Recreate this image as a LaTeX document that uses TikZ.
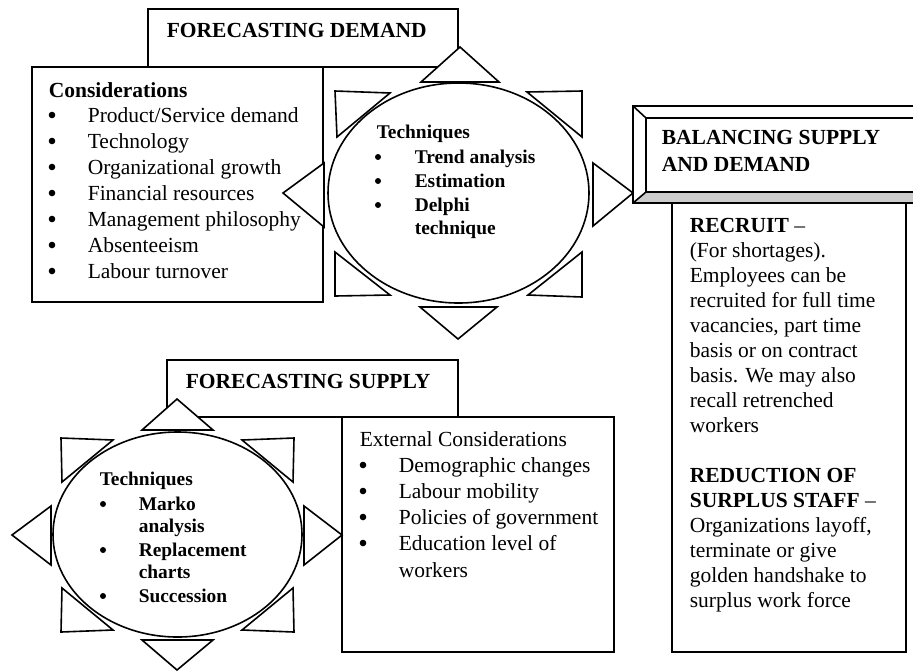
\documentclass[tikz,border=0pt]{standalone}
\usepackage{fontspec}
\setmainfont{Liberation Serif}
\newcommand{\bodyfont}{\fontsize{10.75}{12.75}\selectfont}
\newcommand{\techfont}{\fontsize{9.7}{11.5}\selectfont}
\tikzset{
    box/.style={draw, fill=white},
    tri/.style={draw, fill=white, line join=miter},
    txt/.style={anchor=base west, inner sep=0pt, font=\bodyfont},
    head/.style={txt, font=\bodyfont\bfseries},
    dot/.style={circle, fill, inner sep=0pt, minimum size=3.3pt},
    tech/.style={anchor=base west, inner sep=0pt, font=\techfont\bfseries},
}

\begin{document}
\begin{tikzpicture}[x=0.5pt, y=-0.5pt, line width=0.8pt]
        \useasboundingbox (0,0) rectangle (913,671);
        \clip (0,0) rectangle (913,671);

        % demand
        \draw[box] (148,9) rectangle (458,67);
        \node[head] (fdem) at (166,37) {FORECASTING DEMAND};
        \draw[box] (32,67) rectangle (323,302);
        \node[head] (cons) at (48,97) {Considerations};
        \foreach \t [count=\i] in {Product/Service demand, Technology, Organizational growth, Financial resources, Management philosophy, Absenteeism, Labour turnover}{
            \node[dot] (cdot\i) at (52,89+26*\i) {};
            \node[txt] (citem\i) at (87,96+26*\i) {\t};
        }

        % star round the demand techniques
        \foreach \a/\b/\c in {{(460,47)}/{(421,82)}/{(499,82)}, {(420,307)}/{(497,307)}/{(458,339)},
                {(324,163)}/{(324,227)}/{(283,193)}, {(593,163)}/{(593,226)}/{(633,193)},
                {(335,91)}/{(390,93)}/{(337,137)}, {(335,252)}/{(335,296)}/{(390,295)},
                {(527,92)}/{(582,91)}/{(582,137)}, {(528,295)}/{(582,297)}/{(582,252)}}
            \draw[tri] \a -- \b -- \c -- cycle;
        \draw[box] (458.5,193) ellipse [x radius=130.5, y radius=110];
        \node[tech] (dtech) at (376,138) {Techniques};
        \node[dot, minimum size=3pt] (ddot1) at (378,157) {};
        \node[dot, minimum size=3pt] (ddot2) at (378,181) {};
        \node[dot, minimum size=3pt] (ddot3) at (378,205) {};
        \node[tech] (dtrend) at (414,163) {Trend analysis};
        \node[tech] (destim) at (414,187) {Estimation};
        \node[tech] (ddelphi) at (414,211) {Delphi};
        \node[tech] (ddelphi2) at (414,234) {technique};

        % balancing
        \fill[white] (633,106) rectangle (925,203);
        \fill[gray!40] (633,203) -- (646,192) -- (925,192) -- (925,203) -- cycle;
        \draw (633,106) rectangle (925,203);
        \draw (646,118) rectangle (925,192);
        \draw (633,106) -- (646,118);
        \draw (633,203) -- (646,192);
        \node[head] (bal1) at (661,144) {BALANCING SUPPLY};
        \node[head] (bal2) at (661,171) {AND DEMAND};
        \draw[box] (672,203) rectangle (906,652);
        \foreach \t [count=\i] in {\textbf{RECRUIT} --, (For shortages)., Employees can be, recruited for full time, {vacancies, part time}, basis or on contract, basis. We may also, recall retrenched, workers, {}, \textbf{REDUCTION OF}, \textbf{SURPLUS STAFF} --, {Organizations layoff,}, terminate or give, golden handshake to, surplus work force}
            \node[txt] (bline\i) at (689,207+25*\i) {\t};

        % supply
        \draw[box] (167,360) rectangle (458,417);
        \node[head] (fsup) at (185,388) {FORECASTING SUPPLY};
        \draw[box] (342,417) rectangle (614,652);
        \node[txt] (ext) at (359,446) {External Considerations};
        \foreach \t [count=\i] in {Demographic changes, Labour mobility, Policies of government, Education level of}{
            \node[dot] (edot\i) at (363,439+26*\i) {};
            \node[txt] (eitem\i) at (398,446+26*\i) {\t};
        }
        \node[txt] (eitem5) at (398,577) {workers};

        % star round the supply techniques
        \foreach \a/\b/\c in {{(177,399)}/{(142,430)}/{(213,430)}, {(142,640)}/{(213,640)}/{(177,670)},
                {(51,506)}/{(51,565)}/{(12,535)}, {(304,506)}/{(304,565)}/{(342,535)},
                {(61,438)}/{(113,440)}/{(62,482)}, {(242,440)}/{(294,438)}/{(293,482)},
                {(62,588)}/{(61,632)}/{(113,630)}, {(293,588)}/{(294,632)}/{(242,630)}}
            \draw[tri] \a -- \b -- \c -- cycle;
        \draw[box] (177.5,534.5) ellipse [x radius=124.5, y radius=102.5];
        \node[tech] (stech) at (99,485) {Techniques};
        \node[dot, minimum size=3pt] (sdot1) at (103,504) {};
        \node[dot, minimum size=3pt] (sdot2) at (103,550) {};
        \node[dot, minimum size=3pt] (sdot3) at (103,596) {};
        \node[tech] (smarko) at (138,510) {Marko};
        \node[tech] (smarko2) at (138,532) {analysis};
        \node[tech] (srepl) at (138,556) {Replacement};
        \node[tech] (srepl2) at (138,578) {charts};
        \node[tech] (ssucc) at (138,602) {Succession};

    \end{tikzpicture}
\end{document}
